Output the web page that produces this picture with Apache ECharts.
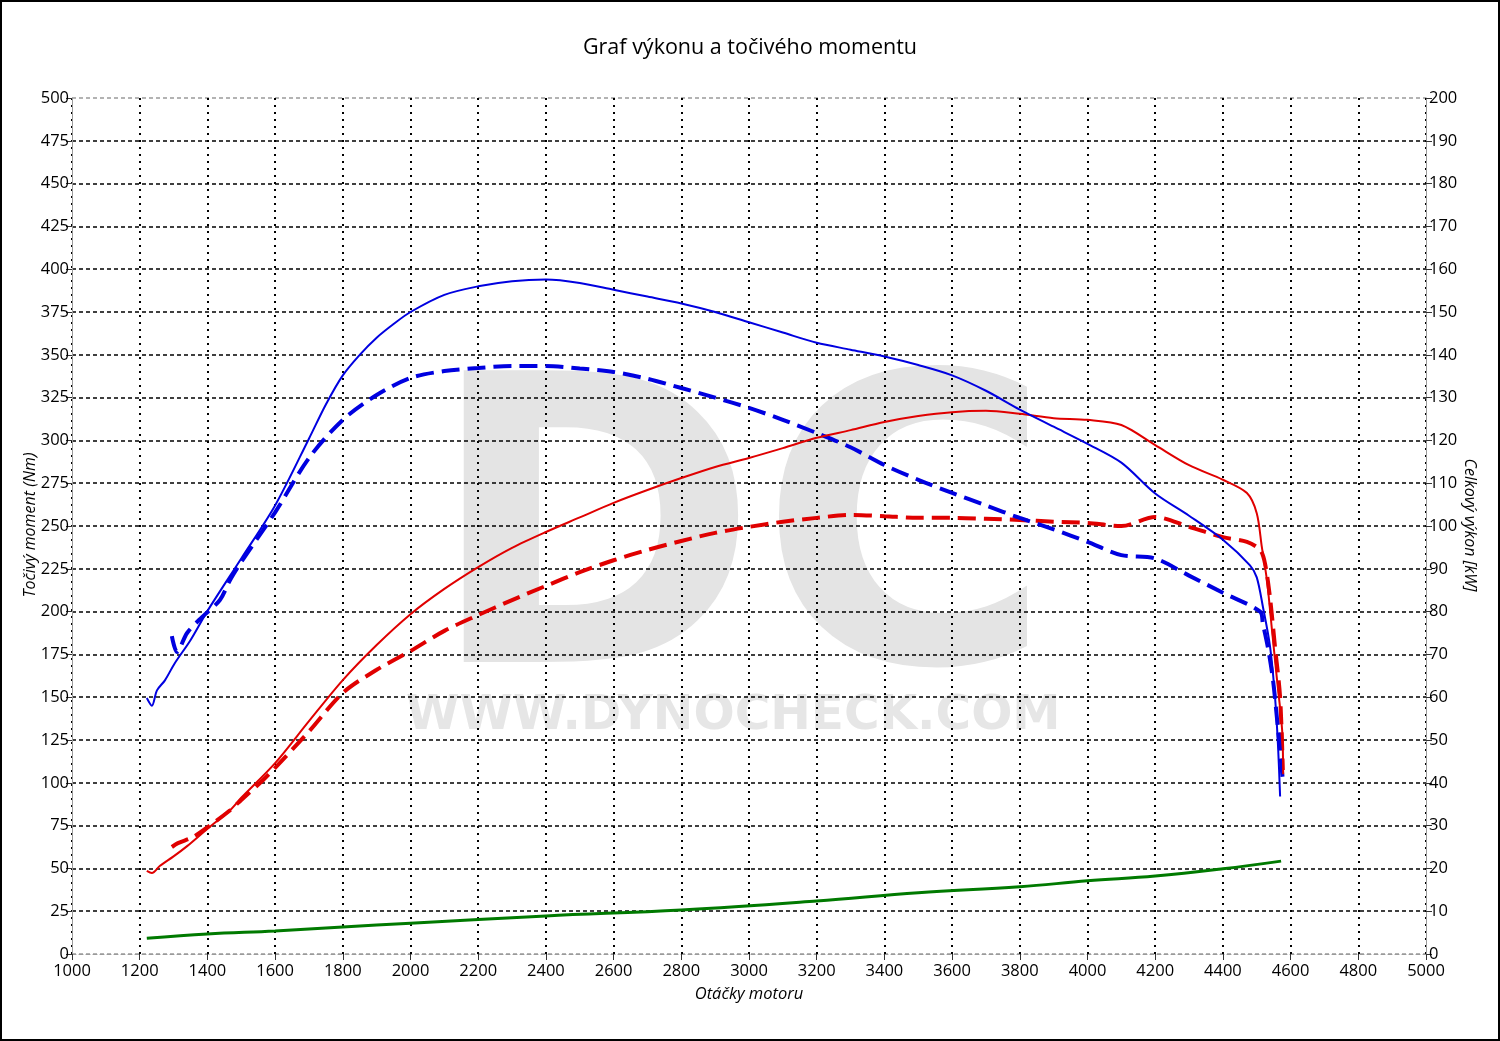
<!DOCTYPE html>
<html><head><meta charset="utf-8">
<script src="https://cdn.jsdelivr.net/npm/echarts@6/dist/echarts.min.js"></script>
<style>html,body{margin:0;padding:0;background:#fff}#c{width:1500px;height:1041px}</style>
</head><body><div id="c"></div>
<script>
// Tuned torque (blue solid) [Nm]
const torqueTunedRpm = [1221,1236,1251,1275,1304,1349,1399,1500,1600,1700,1750,1800,1850,1900,1950,2000,2100,2200,2300,2400,2500,2600,2700,2800,2900,3000,3100,3200,3300,3400,3500,3600,3700,3800,3900,4000,4100,4200,4300,4400,4480,4500,4518,4539,4554,4563,4569];
const torqueTuned    = [149.5,145,154,160,170,183,200,231,262,301,321,338,350,360,368,375,385,390,393,394,392,388,384,380,375,369,363,357,353,349,344,338,329,318,308,298,287,269,256,242,227,220,203,180,150,121,92];
// Tuned power (red solid) [kW]
const powerTunedRpm = [1221,1236,1260,1300,1340,1402,1467,1500,1600,1700,1800,1900,2000,2100,2200,2300,2400,2500,2600,2700,2800,2900,3000,3100,3200,3300,3400,3500,3600,3700,3800,3900,4000,4100,4200,4300,4400,4471,4500,4515,4530,4545,4560,4575,4578];
const powerTuned    = [19.4,18.9,20.6,22.8,25.2,29.4,33.6,36.5,44.6,54.4,64,72.2,79.4,85.3,90.4,94.9,98.6,102,105.4,108.4,111.2,113.8,115.9,118.2,120.6,122.4,124.3,125.7,126.6,126.9,126.2,125.2,124.8,123.6,118.9,114.2,110.8,107.7,103,95.1,87.4,75.7,64,52.3,42];
// Stock torque (blue dashed) [Nm]
const torqueStockRpm = [1295,1310,1340,1384,1437,1467,1500,1600,1700,1800,1900,2000,2100,2200,2300,2400,2500,2600,2700,2800,2900,3000,3100,3200,3300,3400,3500,3600,3700,3800,3900,4000,4100,4200,4300,4400,4510,4518,4533,4548,4563,4577];
const torqueStock    = [185.7,176.4,187.5,196.8,206.8,218.5,229,258,289.7,312,326.5,336.5,340.5,342.3,343.5,343.5,342,340,336,330.6,325,319,312,304.3,296,285.6,277,269.3,262,254.7,248,240.7,233,231,221,211,200,193,179,160,131,101.6];
// Stock power (red dashed) [kW]
const powerStockRpm = [1295,1313,1357,1402,1467,1500,1564,1600,1700,1800,1900,2000,2100,2200,2300,2400,2500,2600,2700,2800,2900,3000,3100,3200,3300,3400,3500,3600,3700,3800,3900,4000,4100,4200,4300,4400,4471,4510,4524,4539,4554,4569,4577];
const powerStock    = [25,25.9,27.3,29.7,33.6,36,40.6,43.5,52,61,66.4,70.8,75.5,79.2,82.7,86,89.2,92,94.4,96.5,98.4,99.8,101,101.9,102.6,102.3,101.9,101.9,101.7,101.4,101,100.7,100,102.1,99.8,97.4,96.3,94.4,91.4,83.4,71.7,60,43];
// Loss power (green) [kW]
const lossRpm   = [1221,1400,1600,1800,2000,2400,2800,3200,3500,3800,4000,4200,4400,4572];
const lossPower = [3.7,4.7,5.4,6.3,7.2,8.9,10.3,12.4,14.3,15.7,17.1,18.2,19.9,21.7];

const leftTicks = {min:0, max:500, interval:25};
const rightTicks = {min:0, max:200, interval:10};
const xTicks = {min:1000, max:5000, interval:200};
const leftName = 'Točivý moment (Nm)';
const rightName = 'Celkový výkon [kW]';

const pairs = (xs, ys) => xs.map((x,i)=>[x, ys[i]]);
const FONT = '"Open Sans","Noto Sans",sans-serif';
const plain = v => String(v);

const hColors = [];
for (let i=0;i<=20;i++) hColors.push(i===0||i===20 ? '#9a9a9a' : '#000');

const chart = echarts.init(document.getElementById('c'), null, {renderer:'canvas'});
chart.setOption({
  animation:false,
  backgroundColor:'#fff',
  title:{text:'Graf výkonu a točivého momentu', left:'center', top:32,
    textStyle:{fontFamily:FONT, fontSize:21.5, fontWeight:'normal', color:'#000'}},
  graphic:[
    {type:'rect', z:100, silent:true, shape:{x:1,y:1,width:1498,height:1039}, style:{fill:'none', stroke:'#000', lineWidth:2}},
    {type:'text', z:-10, silent:true, left:427, top:358,
      style:{text:'DC', font:'bold 400px "DejaVu Sans"', fill:'#e4e4e4'}},
    {type:'text', z:-10, silent:true, left:406, top:692,
      style:{text:'WWW.DYNOCHECK.COM', font:'bold 48.5px "DejaVu Sans"', fill:'#e6e6e6'}},
    {type:'text', silent:true, x:30, y:525, rotation:Math.PI/2,
      style:{text:leftName, font:'italic 16px "Open Sans"', fill:'#000', align:'center', verticalAlign:'middle'}},
    {type:'text', silent:true, x:1470, y:525, rotation:-Math.PI/2,
      style:{text:rightName, font:'italic 16px "Open Sans"', fill:'#000', align:'center', verticalAlign:'middle'}}
  ],
  grid:{left:72, right:74, top:98, bottom:87, containLabel:false},
  xAxis:{type:'value', min:xTicks.min, max:xTicks.max, interval:xTicks.interval,
    name:'Otáčky motoru', nameLocation:'middle', nameGap:32,
    nameTextStyle:{fontFamily:FONT, fontSize:16.5, fontStyle:'italic', color:'#000'},
    axisLine:{show:true, lineStyle:{color:'#9a9a9a', width:1, type:[4,3]}},
    axisTick:{show:true, length:6, lineStyle:{color:'#333'}},
    axisLabel:{fontFamily:FONT, fontSize:16.5, color:'#000', margin:9, formatter:plain},
    splitLine:{show:true, lineStyle:{color:'#000', width:2, type:[2,5]}}
  },
  yAxis:[
    {type:'value', min:leftTicks.min, max:leftTicks.max, interval:leftTicks.interval, position:'left',
      axisLine:{show:true, lineStyle:{color:'#9a9a9a', width:1}},
      axisTick:{show:true, length:6, lineStyle:{color:'#333'}},
      axisLabel:{fontFamily:FONT, fontSize:16.5, color:'#000', margin:3, formatter:plain},
      splitLine:{show:true, lineStyle:{color:hColors, width:1.5, type:[4,3]}}
    },
    {type:'value', min:rightTicks.min, max:rightTicks.max, interval:rightTicks.interval, position:'right',
      axisLine:{show:true, lineStyle:{color:'#9a9a9a', width:1}},
      axisTick:{show:true, length:6, lineStyle:{color:'#333'}},
      axisLabel:{fontFamily:FONT, fontSize:16.5, color:'#000', margin:3, formatter:plain},
      splitLine:{show:false}
    }
  ],
  series:[
    {name:'Loss', type:'line', yAxisIndex:1, data:pairs(lossRpm, lossPower), smooth:0.4, symbol:'none',
      lineStyle:{color:'#007a00', width:3}},
    {name:'Power stock', type:'line', yAxisIndex:1, data:pairs(powerStockRpm, powerStock), smooth:0.3, symbol:'none',
      lineStyle:{color:'#e00000', width:4, type:[18,8]}},
    {name:'Torque stock', type:'line', yAxisIndex:0, data:pairs(torqueStockRpm, torqueStock), smooth:0.3, symbol:'none',
      lineStyle:{color:'#0000e0', width:4, type:[18,8]}},
    {name:'Power tuned', type:'line', yAxisIndex:1, data:pairs(powerTunedRpm, powerTuned), smooth:0.3, symbol:'none',
      lineStyle:{color:'#e00000', width:2}},
    {name:'Torque tuned', type:'line', yAxisIndex:0, data:pairs(torqueTunedRpm, torqueTuned), smooth:0.3, symbol:'none',
      lineStyle:{color:'#0000e0', width:2}}
  ]
});
</script></body></html>
